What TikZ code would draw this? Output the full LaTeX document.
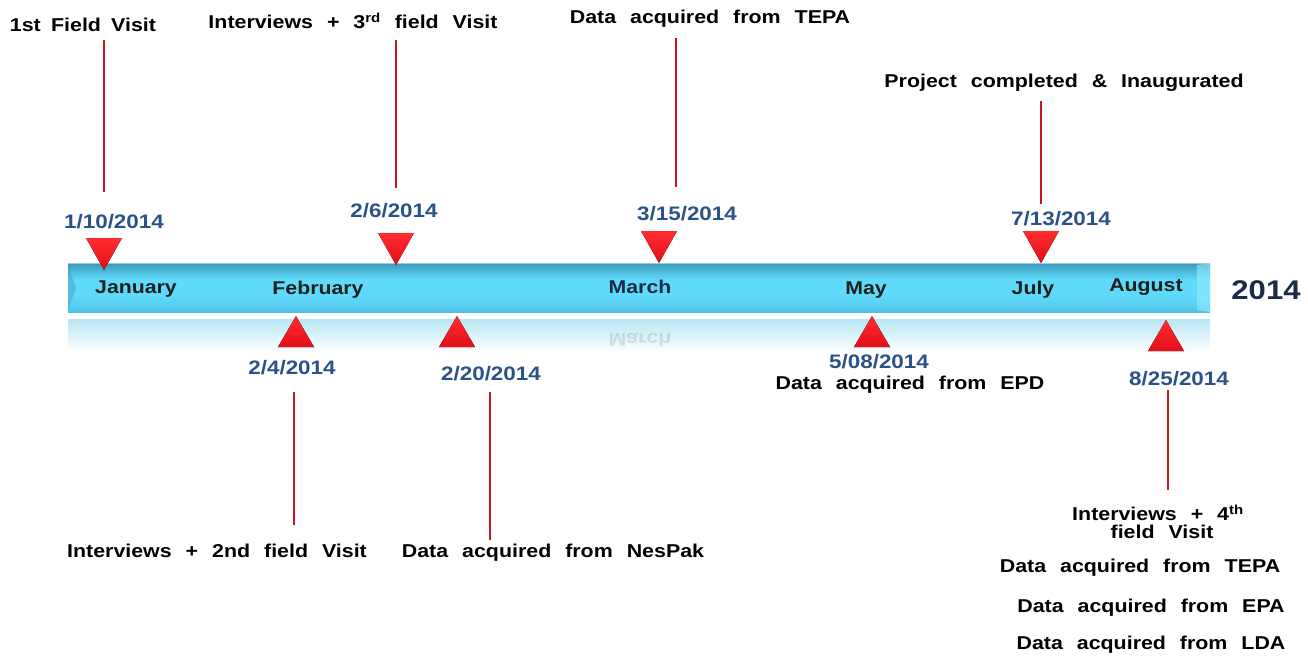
\documentclass[tikz,border=0pt]{standalone}
\usepackage{fontspec}
\setmainfont[FakeStretch=1.15]{Liberation Sans}
\usetikzlibrary{shapes.geometric}
\definecolor{datecol}{HTML}{2B5189}
\definecolor{linered}{HTML}{C8141E}
\definecolor{trilight}{RGB}{255,44,48}
\definecolor{tridark}{RGB}{226,14,24}
\definecolor{navy}{HTML}{1B2A48}
\definecolor{bartop}{RGB}{58,152,186}
\definecolor{barmid}{RGB}{96,218,250}
\definecolor{barbot}{RGB}{78,192,228}
\definecolor{bevlight}{RGB}{150,236,252}
\definecolor{bevdark}{RGB}{60,160,192}
\definecolor{reftop}{RGB}{184,230,242}
\pgfdeclareverticalshading{barshade}{100bp}{color(0bp)=(barbot); color(25bp)=(barbot); color(31bp)=(barbot!50!barmid); color(42bp)=(barmid); color(58bp)=(barmid); color(67bp)=(bartop!50!barmid); color(75bp)=(bartop); color(100bp)=(bartop)}
\newcommand\widesp{\spaceskip=0.75em\relax}
\newcommand\narrowsp{\spaceskip=0.55em\relax}
\newcommand\downtri[2]{\fill[tri] (#1-18,#2-32) -- (#1+18,#2-32) -- (#1,#2) -- cycle;}
\newcommand\uptri[2]{\fill[tri] (#1-18,#2+31) -- (#1+18,#2+31) -- (#1,#2) -- cycle;}
\begin{document}
\begin{tikzpicture}[x=1pt,y=-1pt,
  lbl/.style={font=\bfseries\fontsize{18.6}{21}\selectfont\widesp, text=black, inner sep=0pt},
  datelbl/.style={font=\bfseries\fontsize{19.5}{21}\selectfont, text=datecol, inner sep=0pt},
  month/.style={font=\bfseries\fontsize{18.5}{21}\selectfont, text=black!88, inner sep=0pt},
  stem/.style={draw=linered, line width=2pt},
  tri/.style={top color=trilight, bottom color=tridark}]
\useasboundingbox (0,0) rectangle (1308,656);
% reflection
\shade[top color=reftop, bottom color=white] (68,319) rectangle (1210,352);
\node[month, text opacity=0.12, yscale=-1, transform shape] (marchref) at (640,340) {March};
% bar
\shade[shading=barshade] (68,263) rectangle (1210,312);
\draw[white, opacity=0.5, line width=1pt] (68,263.5) -- (1210,263.5);
\fill[bevlight, opacity=0.6] (1197,265) -- (1210,263) -- (1210,312) -- (1197,310) -- cycle;
\fill[bevdark, opacity=0.45] (68,266) -- (76,288) -- (68,310) -- cycle;
% months
\node[month] (jan) at (136,289) {January};
\node[month] (feb) at (318,290) {February};
\node[month, text=navy] (mar) at (640,287) {March};
\node[month] (may) at (866,290) {May};
\node[month] (jul) at (1033,290) {July};
\node[month] (aug) at (1146,287) {August};
\node[font=\bfseries\fontsize{27}{30}\selectfont, text=navy, inner sep=0pt] (year) at (1266,290) {2014};
% triangles above bar
\downtri{104}{270}
\downtri{396}{265}
\downtri{659}{263}
\downtri{1041}{263}
% triangles below bar
\uptri{296}{316}
\uptri{457}{316}
\uptri{872}{316}
\uptri{1166}{320}
% dates
\node[datelbl] (d1) at (114,222) {1/10/2014};
\node[datelbl] (d2) at (394,211) {2/6/2014};
\node[datelbl] (d3) at (687,214) {3/15/2014};
\node[datelbl] (d4) at (1061,219) {7/13/2014};
\node[datelbl] (d5) at (292,368) {2/4/2014};
\node[datelbl] (d6) at (491,374) {2/20/2014};
\node[datelbl] (d7) at (879,362) {5/08/2014};
\node[datelbl] (d8) at (1179,379) {8/25/2014};
% event labels
\node[lbl, font=\bfseries\fontsize{18.6}{21}\selectfont\narrowsp] (e1) at (83,25) {1st Field Visit};
\node[lbl] (e2) at (353,21) {Interviews + 3\textsuperscript{rd} field Visit};
\node[lbl] (e3) at (710,19) {Data acquired from TEPA};
\node[lbl] (e4) at (1064,83) {Project completed \& Inaugurated};
\node[lbl] (e5) at (217,551) {Interviews + 2nd field Visit};
\node[lbl] (e6) at (553,553) {Data acquired from NesPak};
\node[lbl] (e7) at (910,385) {Data acquired from EPD};
\node[lbl] (e8a) at (1158,513) {Interviews + 4\textsuperscript{th}};
\node[lbl] (e8b) at (1162,532) {field Visit};
\node[lbl] (e9) at (1140,568) {Data acquired from TEPA};
\node[lbl] (e10) at (1151,608) {Data acquired from EPA};
\node[lbl] (e11) at (1151,645) {Data acquired from LDA};
% stems
\coordinate (s1a) at (104,40); \coordinate (s1b) at (104,192);
\coordinate (s2a) at (396,40); \coordinate (s2b) at (396,188);
\coordinate (s3a) at (676,38); \coordinate (s3b) at (676,187);
\coordinate (s4a) at (1041,101); \coordinate (s4b) at (1041,204);
\coordinate (s5a) at (294,392); \coordinate (s5b) at (294,525);
\coordinate (s6a) at (490,392); \coordinate (s6b) at (490,540);
\coordinate (s8a) at (1168,390); \coordinate (s8b) at (1168,490);
\draw[stem] (s1a) -- (s1b);
\draw[stem] (s2a) -- (s2b);
\draw[stem] (s3a) -- (s3b);
\draw[stem] (s4a) -- (s4b);
\draw[stem] (s5a) -- (s5b);
\draw[stem] (s6a) -- (s6b);
\draw[stem] (s8a) -- (s8b);
\end{tikzpicture}
\end{document}
